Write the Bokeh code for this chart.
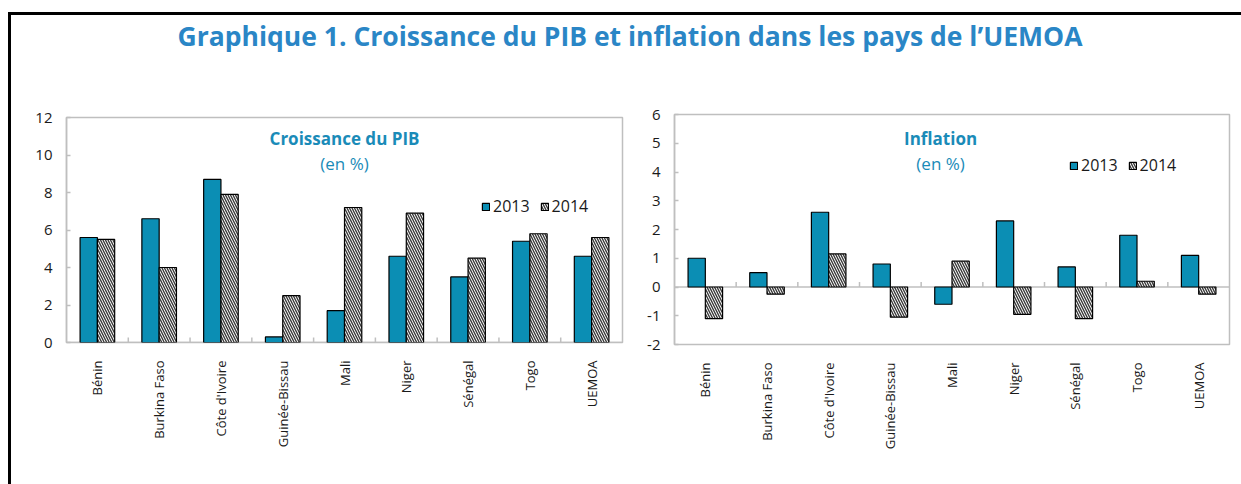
import math
from bokeh.plotting import figure
from bokeh.models import (ColumnDataSource, FactorRange, Range1d, Label, Span,
                          Legend, LegendItem, FixedTicker)
from bokeh.transform import dodge
from bokeh.layouts import column, row
from bokeh.embed import file_html
from bokeh.resources import INLINE

# ---------------- data ----------------
countries = ["Bénin", "Burkina Faso", "Côte d'Ivoire", "Guinée-Bissau", "Mali",
             "Niger", "Sénégal", "Togo", "UEMOA"]
years = ["2013", "2014"]
gdp_2013 = [5.6, 6.6, 8.7, 0.3, 1.7, 4.6, 3.5, 5.4, 4.6]
gdp_2014 = [5.5, 4.0, 7.9, 2.5, 7.2, 6.9, 4.5, 5.8, 5.6]
infl_2013 = [1.0, 0.5, 2.6, 0.8, -0.6, 2.3, 0.7, 1.8, 1.1]
infl_2014 = [-1.1, -0.25, 1.15, -1.05, 0.9, -0.95, -1.1, 0.2, -0.25]
gdp_ticks = [0, 2, 4, 6, 8, 10, 12]
infl_ticks = [-2, -1, 0, 1, 2, 3, 4, 5, 6]

main_title = "Graphique 1. Croissance du PIB et inflation dans les pays de l\u2019UEMOA"
gdp_title = "Croissance du PIB"
infl_title = "Inflation"
unit_text = "(en %)"

# ---------------- style ----------------
FONT = "Open Sans"
TEAL = "#0B8EB4"
TITLE_BLUE = "#2A86C6"
SUB_BLUE = "#1A8BB8"
GRAY = "#BFBFBF"
TXT = "#1a1a1a"


def make_chart(v13, v14, ticks, ymin, ymax, fw, fh, mb, title, title_x, title_y,
               unit_y, leg_loc, tick_len):
    l, r, t, b = mb
    p = figure(x_range=FactorRange(*countries, range_padding=0),
               y_range=Range1d(ymin, ymax),
               frame_width=fw, frame_height=fh,
               min_border_left=l, min_border_right=r, min_border_top=t,
               min_border_bottom=b, output_backend="svg", toolbar_location=None,
               background_fill_color="white", border_fill_color="white")
    p.outline_line_color = GRAY
    p.outline_line_width = 1.5
    p.xgrid.visible = False
    p.ygrid.visible = False

    src = ColumnDataSource(dict(cat=countries, v13=v13, v14=v14))

    zero = Span(location=0, dimension="width", line_color=GRAY, line_width=1.5,
                level="underlay")
    p.add_layout(zero)

    r13 = p.vbar(x=dodge("cat", -0.14, range=p.x_range), top="v13", bottom=0,
                 width=0.28, source=src, fill_color=TEAL, line_color="black",
                 line_width=1.2)
    r14 = p.vbar(x=dodge("cat", 0.14, range=p.x_range), top="v14", bottom=0,
                 width=0.28, source=src, fill_color="white", line_color="black",
                 line_width=1.2, hatch_pattern="\\", hatch_color="#3a3a3a",
                 hatch_scale=5, hatch_weight=1.4)

    # category separator ticks on the zero line
    tsrc = ColumnDataSource(dict(cat=countries[1:]))
    p.segment(x0=dodge("cat", -0.5, range=p.x_range), y0=0,
              x1=dodge("cat", -0.5, range=p.x_range), y1=tick_len,
              source=tsrc, line_color=GRAY, line_width=1.5)

    # axes
    xa = p.xaxis[0]
    xa.axis_line_color = None
    xa.major_tick_line_color = None
    xa.minor_tick_line_color = None
    xa.major_label_orientation = math.pi / 2
    xa.major_label_standoff = 12
    xa.major_label_text_font = FONT
    xa.major_label_text_font_size = "13px"
    xa.major_label_text_color = TXT

    ya = p.yaxis[0]
    ya.ticker = FixedTicker(ticks=ticks)
    ya.major_label_overrides = {t: str(t) for t in ticks}
    ya.axis_line_color = GRAY
    ya.axis_line_width = 1.5
    ya.major_tick_line_color = GRAY
    ya.major_tick_line_width = 1.5
    ya.major_tick_in = 4
    ya.major_tick_out = 0
    ya.minor_tick_line_color = None
    ya.major_label_standoff = 14
    ya.major_label_text_font = FONT
    ya.major_label_text_font_size = "15px"
    ya.major_label_text_color = TXT

    p.add_layout(Label(x=title_x, y=title_y, text=title, text_align="center",
                       text_baseline="middle", text_font=FONT,
                       text_font_size="17px", text_font_style="bold",
                       text_color=SUB_BLUE))
    p.add_layout(Label(x=title_x, y=unit_y, text=unit_text, text_align="center",
                       text_baseline="middle", text_font=FONT,
                       text_font_size="17px", text_color=SUB_BLUE))

    legend = Legend(items=[LegendItem(label=years[0], renderers=[r13]),
                           LegendItem(label=years[1], renderers=[r14])],
                    orientation="horizontal", location=leg_loc,
                    glyph_width=9, glyph_height=9, label_standoff=3, spacing=10,
                    padding=0, margin=0, border_line_color=None,
                    background_fill_alpha=0, label_height=12,
                    label_text_font=FONT, label_text_font_size="16px",
                    label_text_color=TXT)
    p.add_layout(legend)
    return p


p1 = make_chart(gdp_2013, gdp_2014, gdp_ticks, 0, 12, 556, 225, (55, 18, 57, 142),
                gdp_title, 4.5, 10.88, 9.55, (415, 125), 0.27)
p2 = make_chart(infl_2013, infl_2014, infl_ticks, -2, 6, 555, 230, (34, 4, 54, 140),
                infl_title, 4.315, 5.18, 4.31, (395, 168), 0.17)
p2.margin = (-3, 0, 0, 0)

header = figure(width=1230, height=45, x_range=Range1d(0, 1230), y_range=Range1d(0, 45),
                x_axis_type=None, y_axis_type=None, min_border=0,
                output_backend="svg", toolbar_location=None)
header.outline_line_color = None
header.xgrid.visible = False
header.ygrid.visible = False
header.add_layout(Label(x=618.5, y=25, text=main_title, text_align="center",
                        text_baseline="middle", text_font=FONT,
                        text_font_size="26.5px", text_font_style="bold",
                        text_color=TITLE_BLUE))

page = column(header, row(p1, p2),
              styles={"border-left": "3px solid black", "border-top": "3px solid black",
                      "margin-top": "12px", "margin-left": "8px"})

open("out.html", "w").write(file_html(page, INLINE))
